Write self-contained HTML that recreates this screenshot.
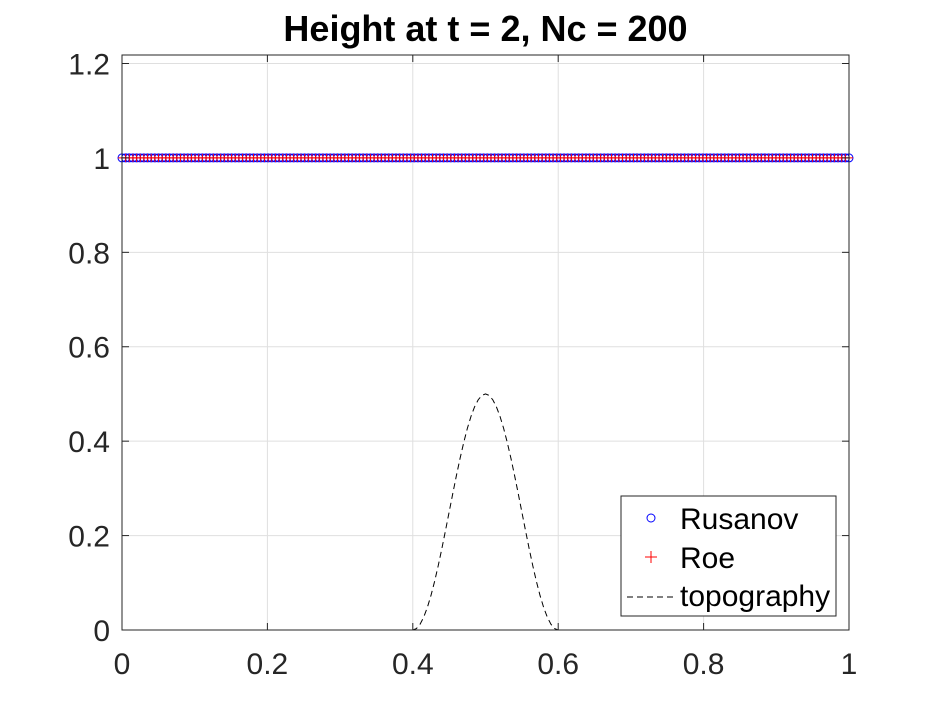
<!DOCTYPE html>
<html><head><meta charset="utf-8"><style>
html,body{margin:0;padding:0;background:#fff;}
svg{display:block;font-family:"Liberation Sans",Arial,sans-serif;}
</style></head><body>
<svg id="chart" width="938" height="708" viewBox="0 0 938 708" xmlns="http://www.w3.org/2000/svg">
<rect width="938" height="708" fill="#fff"/>
<g id="grid"></g>
<g id="series"></g>
<g id="axes"></g>
<text x="485.5" y="41" text-anchor="middle" font-size="36" font-weight="bold" fill="#000">Height at t = 2, Nc = 200</text>
<g id="legend">
<rect x="621" y="496" width="215" height="120" fill="#fff" stroke="#262626" stroke-width="1"/>
<circle cx="651" cy="518" r="4" fill="none" stroke="#0000ff" stroke-width="1"/>
<text x="680" y="529" font-size="30" fill="#000">Rusanov</text>
<path d="M645,557h12M651,551v12" stroke="#ff0000" stroke-width="1"/>
<text x="680" y="568" font-size="30" fill="#000">Roe</text>
<line x1="627" y1="597" x2="677" y2="597" stroke="#000" stroke-width="1" stroke-dasharray="6,4"/>
<text x="680" y="606" font-size="30" fill="#000">topography</text>
</g>
</svg>
<script>
const xTicks = [0, 0.2, 0.4, 0.6, 0.8, 1];
const xTickLabels = ["0", "0.2", "0.4", "0.6", "0.8", "1"];
const yTicks = [0, 0.2, 0.4, 0.6, 0.8, 1, 1.2];
const yTickLabels = ["0", "0.2", "0.4", "0.6", "0.8", "1", "1.2"];
const nCells = 200;
const heightRusanov = Array(nCells).fill(1);
const heightRoe = Array(nCells).fill(1);
const topoX = [0, 0.4,0.405,0.41,0.415,0.42,0.425,0.43,0.435,0.44,0.445,0.45,0.455,0.46,0.465,0.47,0.475,0.48,0.485,0.49,0.495,0.5,0.505,0.51,0.515,0.52,0.525,0.53,0.535,0.54,0.545,0.55,0.555,0.56,0.565,0.57,0.575,0.58,0.585,0.59,0.595,0.6, 1];
const topoY = [0, 0,0.0031,0.0122,0.0272,0.0477,0.0732,0.1031,0.1365,0.1727,0.2109,0.25,0.2891,0.3273,0.3635,0.3969,0.4268,0.4523,0.4728,0.4878,0.4969,0.5,0.4969,0.4878,0.4728,0.4523,0.4268,0.3969,0.3635,0.3273,0.2891,0.25,0.2109,0.1727,0.1365,0.1031,0.0732,0.0477,0.0272,0.0122,0.0031,0, 0];

const L=122, R=849, T=55, B=630, yMax=1.218;
const sx = v => L + v*(R-L);
const sy = v => B - v/yMax*(B-T);
const NS="http://www.w3.org/2000/svg";
function mk(tag, attrs, parent){const e=document.createElementNS(NS,tag);for(const k in attrs)e.setAttribute(k,attrs[k]);parent.appendChild(e);return e;}
const grid=document.getElementById('grid'), series=document.getElementById('series'), axes=document.getElementById('axes');

xTicks.forEach((v,i)=>{
  const g=mk('line',{x1:sx(v),x2:sx(v),y1:T,y2:B,stroke:'#dfdfdf','stroke-width':1},grid);
  
  
  const t=mk('line',{x1:sx(v),x2:sx(v),y1:B,y2:B-7,stroke:'#262626','stroke-width':1},axes);
  
  
  const t2=mk('line',{x1:sx(v),x2:sx(v),y1:T,y2:T+7,stroke:'#262626','stroke-width':1},axes);
  
  
  const lb=mk('text',{x:sx(v),y:674,'text-anchor':'middle','font-size':30,fill:'#262626'},axes);
  lb.textContent=xTickLabels[i];
  
  
});
yTicks.forEach((v,i)=>{
  const g=mk('line',{x1:L,x2:R,y1:sy(v),y2:sy(v),stroke:'#dfdfdf','stroke-width':1},grid);
  
  
  const t=mk('line',{x1:L,x2:L+7,y1:sy(v),y2:sy(v),stroke:'#262626','stroke-width':1},axes);
  
  
  const t2=mk('line',{x1:R,x2:R-7,y1:sy(v),y2:sy(v),stroke:'#262626','stroke-width':1},axes);
  
  
  const lb=mk('text',{x:L-12,y:sy(v)+11,'text-anchor':'end','font-size':30,fill:'#262626'},axes);
  lb.textContent=yTickLabels[i];
  
  
});
const box=mk('rect',{x:L,y:T,width:R-L,height:B-T,fill:'none',stroke:'#262626','stroke-width':1},axes);



let d='';
topoX.forEach((x,i)=>{d+=(i?'L':'M')+sx(x).toFixed(2)+','+sy(topoY[i]).toFixed(2);});
const topo=mk('path',{d:d,fill:'none',stroke:'#000','stroke-width':1,'stroke-dasharray':'6,4'},series);



heightRusanov.forEach((h,i)=>{
  const x=i/(nCells-1);
  const c=mk('circle',{cx:sx(x),cy:sy(h),r:4,fill:'none',stroke:'#0000ff','stroke-width':1},series);
  
  
});
heightRoe.forEach((h,i)=>{
  const x=i/(nCells-1), px=sx(x), py=sy(h);
  const p=mk('path',{d:`M${px-4},${py}h8M${px},${py-4}v8`,stroke:'#ff0000','stroke-width':1},series);
  
  
});
</script>
</body></html>
